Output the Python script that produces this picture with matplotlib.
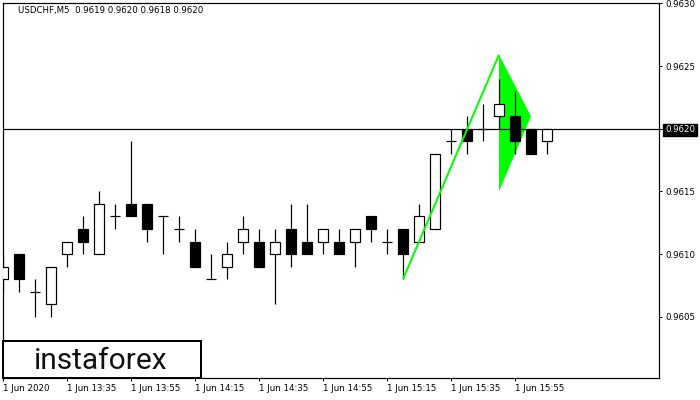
import matplotlib
matplotlib.use("Agg")
import matplotlib.pyplot as plt
from matplotlib.patches import Rectangle

# ---- data ----
symbol_title = "USDCHF,M5  0.9619 0.9620 0.9618 0.9620"
opens  = [0.9608, 0.9610, 0.9607, 0.9606, 0.9610, 0.9612, 0.9610, 0.9613, 0.9614, 0.9614,
          0.9613, 0.9612, 0.9611, 0.9608, 0.9609, 0.9611, 0.9611, 0.9610, 0.9612, 0.9611,
          0.9611, 0.9611, 0.9611, 0.9613, 0.9611, 0.9612, 0.9611, 0.9612, 0.9619, 0.9620,
          0.9620, 0.9621, 0.9621, 0.9620, 0.9619]
highs  = [0.9610, 0.9610, 0.9608, 0.9609, 0.9611, 0.9613, 0.9615, 0.9614, 0.9619, 0.9614,
          0.9613, 0.9613, 0.9612, 0.9610, 0.9611, 0.9613, 0.9612, 0.9612, 0.9614, 0.9614,
          0.9612, 0.9612, 0.9612, 0.9613, 0.9612, 0.9612, 0.9614, 0.9618, 0.9620, 0.9621,
          0.9622, 0.9624, 0.9623, 0.9620, 0.9620]
lows   = [0.9607, 0.9607, 0.9605, 0.9605, 0.9609, 0.9610, 0.9610, 0.9612, 0.9613, 0.9611,
          0.9610, 0.9611, 0.9609, 0.9608, 0.9608, 0.9610, 0.9609, 0.9606, 0.9609, 0.9610,
          0.9610, 0.9610, 0.9609, 0.9611, 0.9610, 0.9608, 0.9611, 0.9612, 0.9618, 0.9618,
          0.9619, 0.9620, 0.9618, 0.9618, 0.9618]
closes = [0.9609, 0.9608, 0.9607, 0.9609, 0.9611, 0.9611, 0.9614, 0.9613, 0.9613, 0.9612,
          0.9613, 0.9612, 0.9609, 0.9608, 0.9610, 0.9612, 0.9609, 0.9611, 0.9610, 0.9610,
          0.9612, 0.9610, 0.9612, 0.9612, 0.9611, 0.9610, 0.9613, 0.9618, 0.9619, 0.9619,
          0.9620, 0.9622, 0.9619, 0.9618, 0.9620]
x_tick_idx = [0, 4, 8, 12, 16, 20, 24, 28, 32]
x_tick_labels = ["1 Jun 2020", "1 Jun 13:35", "1 Jun 13:55", "1 Jun 14:15", "1 Jun 14:35",
                 "1 Jun 14:55", "1 Jun 15:15", "1 Jun 15:35", "1 Jun 15:55"]
y_ticks = [0.9605, 0.9610, 0.9615, 0.9620, 0.9625, 0.9630]
y_tick_labels = ["0.9605", "0.9610", "0.9615", "0.9620", "0.9625", "0.9630"]
current_price = 0.9620
# pennant pattern
pole_x = [25, 31]
pole_y = [0.9608, 0.96259]
flag_x = [31, 33, 31]
flag_y = [0.96259, 0.96210, 0.96150]

# ---- figure ----
plt.rcParams['font.family'] = ['DejaVu Sans']
W, H = 700, 400
fig = plt.figure(figsize=(7, 4), dpi=100)
fig.patch.set_facecolor('white')
left, right, top, bottom = 2.7, 659, 2.7, 378
ax = fig.add_axes([left / W, 1 - bottom / H, (right - left) / W, (bottom - top) / H])
ax.set_facecolor('white')

px = 72 / 100  # one pixel in points
bw = 0.66
n = len(opens)
for i in range(n):
    o, h, l, c = opens[i], highs[i], lows[i], closes[i]
    ax.vlines(i, l, h, color='black', lw=1.2 * px, zorder=3)
    if abs(c - o) < 1e-9:
        ax.hlines(o, i - bw / 2, i + bw / 2, color='black', lw=1.2 * px, zorder=4)
    else:
        fc = 'white' if c > o else 'black'
        ax.bar(i, abs(c - o), bottom=min(o, c), width=bw, color=fc,
               edgecolor='black', linewidth=1.2 * px, zorder=4)

ax.fill(flag_x, flag_y, color='#00ff00', lw=0, zorder=2)
ax.plot(pole_x, pole_y, color='#00ff00', lw=2 * px, zorder=5, solid_capstyle='butt')
ax.axhline(current_price, color='black', lw=1.2 * px, zorder=2.5)

ax.set_xlim(-0.02, 41.0)
ax.set_ylim(0.960012, 0.963005)

ax.set_xticks(x_tick_idx)
ax.set_xticklabels(x_tick_labels, fontsize=6.2, ha='left')
ax.yaxis.tick_right()
ax.set_yticks(y_ticks)
ax.set_yticklabels(y_tick_labels, fontsize=6.2)
ax.tick_params(axis='both', direction='out', length=3 * px, width=1 * px, color='black',
               labelcolor='black', pad=3 * px)
for lab in ax.get_yticklabels():
    if lab.get_text() == "0.9620":
        lab.set_color('white')
        lab.set_bbox(dict(facecolor='black', edgecolor='black', pad=1.2))
for sp in ax.spines.values():
    sp.set_color('black')
    sp.set_linewidth(1.2 * px)

fig.text(18 / W, 1 - 11 / H, symbol_title, fontsize=6.2, va='center', ha='left', color='black')

# logo box
box = Rectangle((3 / W, 1 - 378 / H), 198 / W, 37 / H, transform=fig.transFigure,
                facecolor='white', edgecolor='black', lw=2 * px, zorder=10)
fig.patches.append(box)
fig.text(101 / W, 1 - 369 / H, "instaforex", fontsize=21.5, family='Roboto',
         ha='center', va='baseline', color='#111111', zorder=11)

fig.savefig("out.png", dpi=100)
